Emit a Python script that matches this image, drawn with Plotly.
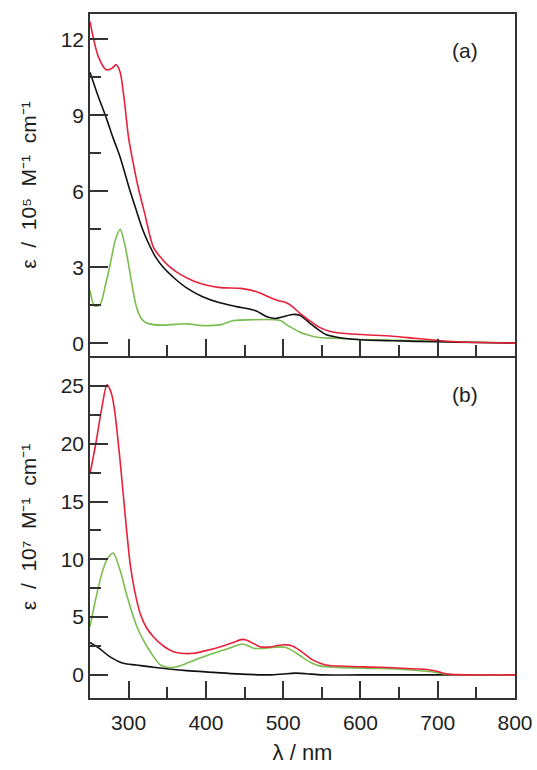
import plotly.graph_objects as go
from plotly.subplots import make_subplots

# ---- Panel (a) data (ε / 10^5 M^-1 cm^-1) ----
wl_a_red = [250, 254, 261, 271, 278, 284, 289, 294, 300, 306, 312, 321, 332, 344, 354, 368, 384, 400, 419, 445, 458, 469, 480, 492, 504, 512, 521, 534, 547, 560, 573, 600, 642, 670, 698, 730, 760, 800]
eps_a_red = [12.7, 12.1, 11.3, 10.8, 10.85, 11.0, 10.7, 9.7, 8.1, 7.1, 6.2, 5.1, 3.8, 3.3, 3.0, 2.7, 2.46, 2.3, 2.2, 2.17, 2.1, 2.0, 1.85, 1.7, 1.6, 1.45, 1.2, 0.9, 0.63, 0.48, 0.41, 0.35, 0.28, 0.2, 0.12, 0.05, 0.03, 0.01]

wl_a_black = [250, 260, 271, 280, 289, 302, 310, 318, 326, 335, 345, 360, 375, 395, 418, 440, 458, 466, 479, 490, 500, 512, 522, 534, 545, 556, 570, 581, 600, 642, 700, 750, 800]
eps_a_black = [10.7, 9.8, 8.9, 8.1, 7.35, 6.0, 5.24, 4.5, 3.93, 3.4, 2.99, 2.55, 2.19, 1.85, 1.6, 1.45, 1.34, 1.27, 1.05, 0.98, 1.05, 1.14, 1.1, 0.81, 0.55, 0.34, 0.24, 0.19, 0.14, 0.1, 0.06, 0.03, 0.01]

wl_a_green = [250, 256, 263, 270, 276, 283, 289, 295, 300, 305, 310, 316, 322, 332, 345, 360, 375, 397, 418, 436, 460, 479, 490, 498, 504, 512, 521, 530, 538, 550, 564, 600, 650, 700, 750, 800]
eps_a_green = [2.09, 1.47, 1.53, 2.3, 3.1, 4.1, 4.5, 3.9, 3.1, 2.2, 1.45, 1.0, 0.82, 0.74, 0.72, 0.75, 0.77, 0.7, 0.73, 0.9, 0.93, 0.94, 0.93, 0.88, 0.74, 0.6, 0.45, 0.35, 0.28, 0.22, 0.2, 0.15, 0.12, 0.08, 0.04, 0.02]

# ---- Panel (b) data (ε / 10^7 M^-1 cm^-1) ----
wl_b_red = [250, 258, 265, 272, 278, 282, 289, 295, 302, 308, 315, 323, 332, 345, 358, 372, 384, 400, 419, 435, 447, 453, 462, 470, 480, 490, 497, 504, 510, 521, 538, 555, 580, 625, 660, 690, 702, 711, 725, 800]
eps_b_red = [17.4, 20.2, 23.0, 25.1, 24.3, 22.8, 18.5, 14.2, 9.6, 7.2, 5.3, 4.1, 3.3, 2.5, 2.0, 1.85, 1.87, 2.1, 2.44, 2.8, 3.07, 3.0, 2.7, 2.44, 2.4, 2.5, 2.59, 2.6, 2.55, 2.15, 1.3, 0.86, 0.75, 0.66, 0.55, 0.43, 0.25, 0.09, 0.02, 0.0]

wl_b_green = [250, 258, 265, 272, 280, 289, 296, 302, 310, 319, 330, 341, 350, 358, 367, 375, 390, 410, 430, 447, 455, 462, 475, 490, 503, 512, 521, 535, 547, 570, 625, 660, 690, 705, 715, 730, 800]
eps_b_green = [4.17, 6.75, 8.7, 10.0, 10.55, 9.05, 7.3, 5.9, 4.3, 3.0, 1.8, 0.86, 0.66, 0.66, 0.8, 1.0, 1.4, 1.87, 2.3, 2.67, 2.5, 2.3, 2.3, 2.4, 2.4, 2.1, 1.7, 1.1, 0.78, 0.65, 0.55, 0.45, 0.29, 0.12, 0.03, 0.0, 0.0]

wl_b_black = [250, 262, 275, 293, 310, 332, 375, 410, 440, 483, 500, 515, 530, 550, 600, 800]
eps_b_black = [2.8, 2.3, 1.6, 1.0, 0.85, 0.66, 0.37, 0.22, 0.09, 0.0, 0.08, 0.15, 0.1, 0.0, 0.0, 0.0]

x_tickvals = [300, 400, 500, 600, 700, 800]
x_minor = [350, 450, 550, 650, 750]
ya_tickvals = [0, 3, 6, 9, 12]
ya_minor = [1.5, 4.5, 7.5, 10.5]
yb_tickvals = [0, 5, 10, 15, 20, 25]
yb_minor = [2.5, 7.5, 12.5, 17.5, 22.5]

RED = "#e8213a"
GREEN = "#78bd4e"
BLACK = "#111111"
AX = "#333333"
TXT = "#1e1e1e"
FONT = "Liberation Sans, Arial, sans-serif"
SP = "\u00a0\u00a0"

fig = make_subplots(rows=2, cols=1, shared_xaxes=False, vertical_spacing=0.0)

def add(x, y, color, row):
    fig.add_trace(go.Scatter(x=x, y=y, mode="lines", line=dict(color=color, width=1.6, shape="spline", smoothing=0.8),
                             showlegend=False, hoverinfo="skip"), row=row, col=1)

add(wl_a_green, eps_a_green, GREEN, 1)
add(wl_a_black, eps_a_black, BLACK, 1)
add(wl_a_red, eps_a_red, RED, 1)
add(wl_b_black, eps_b_black, BLACK, 2)
add(wl_b_green, eps_b_green, GREEN, 2)
add(wl_b_red, eps_b_red, RED, 2)

xcommon = dict(range=[250, 800], tickmode="array", tickvals=x_tickvals, automargin=False,
               ticks="inside", ticklen=17, tickwidth=1.5, tickcolor=AX,
               showline=True, linecolor=AX, linewidth=1.5, showgrid=False, zeroline=False,
               minor=dict(ticks="inside", ticklen=11, tickwidth=1.5, tickcolor=AX, tickvals=x_minor))

fig.update_xaxes(**xcommon, mirror=True, showticklabels=False, row=1, col=1)
fig.update_xaxes(**xcommon, mirror=False, showticklabels=True, ticklabelstandoff=5,
                 tickfont=dict(size=21, color=TXT, family=FONT),
                 title=dict(text="λ / nm", font=dict(size=22, color=TXT, family=FONT), standoff=12),
                 row=2, col=1)

ycommon = dict(ticks="inside", ticklen=18, tickwidth=1.5, tickcolor=AX, automargin=False,
               showline=True, linecolor=AX, linewidth=1.5, mirror=True, showgrid=False, zeroline=False,
               tickfont=dict(size=21, color=TXT, family=FONT))

title_a = "ε" + SP + "/" + SP + "10⁵" + SP + "M⁻¹" + SP + "cm⁻¹"
title_b = "ε" + SP + "/" + SP + "10⁷" + SP + "M⁻¹" + SP + "cm⁻¹"

fig.update_yaxes(**ycommon, range=[-0.5, 13], tickvals=ya_tickvals,
                 minor=dict(ticks="inside", ticklen=11, tickwidth=1.5, tickcolor=AX, tickvals=ya_minor),
                 title=dict(text=title_a, font=dict(size=21, color=TXT, family=FONT), standoff=18),
                 row=1, col=1)
fig.update_yaxes(**ycommon, range=[-2, 27.6], tickvals=yb_tickvals,
                 minor=dict(ticks="inside", ticklen=11, tickwidth=1.5, tickcolor=AX, tickvals=yb_minor),
                 title=dict(text=title_b, font=dict(size=21, color=TXT, family=FONT), standoff=18),
                 row=2, col=1)

fig.update_layout(
    width=537, height=770,
    margin=dict(l=90, r=22, t=14, b=72),
    paper_bgcolor="white", plot_bgcolor="white",
    font=dict(family=FONT, color=TXT),
    annotations=[
        dict(text="(a)", xref="paper", yref="paper", x=0.882, y=0.947, xanchor="center", yanchor="middle",
             showarrow=False, font=dict(size=21, color=TXT, family=FONT)),
        dict(text="(b)", xref="paper", yref="paper", x=0.882, y=0.443, xanchor="center", yanchor="middle",
             showarrow=False, font=dict(size=21, color=TXT, family=FONT)),
    ],
)

fig.write_html("out.html")
